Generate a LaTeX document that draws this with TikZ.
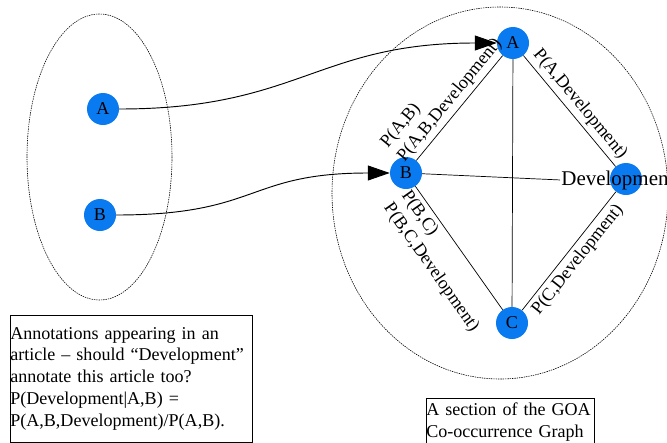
\documentclass[tikz,border=0pt]{standalone}
\usepackage{fontspec}
\setmainfont{Liberation Serif}
\usetikzlibrary{arrows.meta,positioning}
\definecolor{nodeblue}{RGB}{10,122,240}

\begin{document}
\begin{tikzpicture}[x=0.03cm,y=-0.03cm,
		font=\fontsize{15.4}{18.5}\selectfont,
		term/.style={circle,fill=nodeblue,minimum size=0.96cm,inner sep=0pt},
		group/.style={draw,line width=0.5pt,dash pattern=on 1.2pt off 0.8pt},
		link/.style={draw,line width=0.6pt},
		carry/.style={draw,line width=0.8pt,-{Triangle[length=0.66cm,width=0.45cm]}},
		note/.style={draw,line width=0.6pt,align=left,inner xsep=0pt,anchor=north west}
		]
		\useasboundingbox (0,0) rectangle (667,442);
		\clip (0,0) rectangle (667,442);
		% terms of the article
		\draw[group] (99.5,157) ellipse [x radius=72.5,y radius=143];
		\node[term] (la) at (103,109) {A};
		\node[term] (lb) at (100,215) {B};
		% part of the graph
		\draw[group] (500,193) ellipse [x radius=168,y radius=186];
		\node[term] (A) at (513,43) {A};
		\node[term] (B) at (406,173) {B};
		\node[term] (C) at (512,323) {C};
		\node[term] (D) at (626,179) {};
		\node[font=\fontsize{17.9}{21}\selectfont,anchor=base west,inner sep=1pt] (Dtext) at (560,185) {Development};
		\draw[link] (B) -- node[sloped,above,pos=0.5,align=left] {P(A,B)\\P(A,B,Development)} (A);
		\draw[link] (A) -- node[sloped,above,pos=0.51] {P(A,Development)} (D);
		\draw[link] (B) -- node[sloped,below,align=left] {P(B,C)\\P(B,C,Development)} (C);
		\draw[link] (C) -- node[sloped,below,pos=0.49] {P(C,Development)} (D);
		\draw[link] (A) -- (C);
		\draw[link] (B) -- (Dtext.west);
		\draw[carry] (la) to[out=0,in=180,looseness=1.2] (A);
		\draw[carry] (lb) to[out=0,in=180,looseness=1.33] (B);
		% notes
		\node[note,text width=7.26cm,minimum height=3.795cm] (question) at (10,315)
		{Annotations appearing in an\\article – should “Development”\\annotate this article too?\\P(Development|A,B) =\\P(A,B,Development)/P(A,B).};
		\node[note,text width=5.04cm,inner ysep=0.132cm] (caption) at (426,398)
		{A section of the GOA\\Co-occurrence Graph};
\end{tikzpicture}
\end{document}
